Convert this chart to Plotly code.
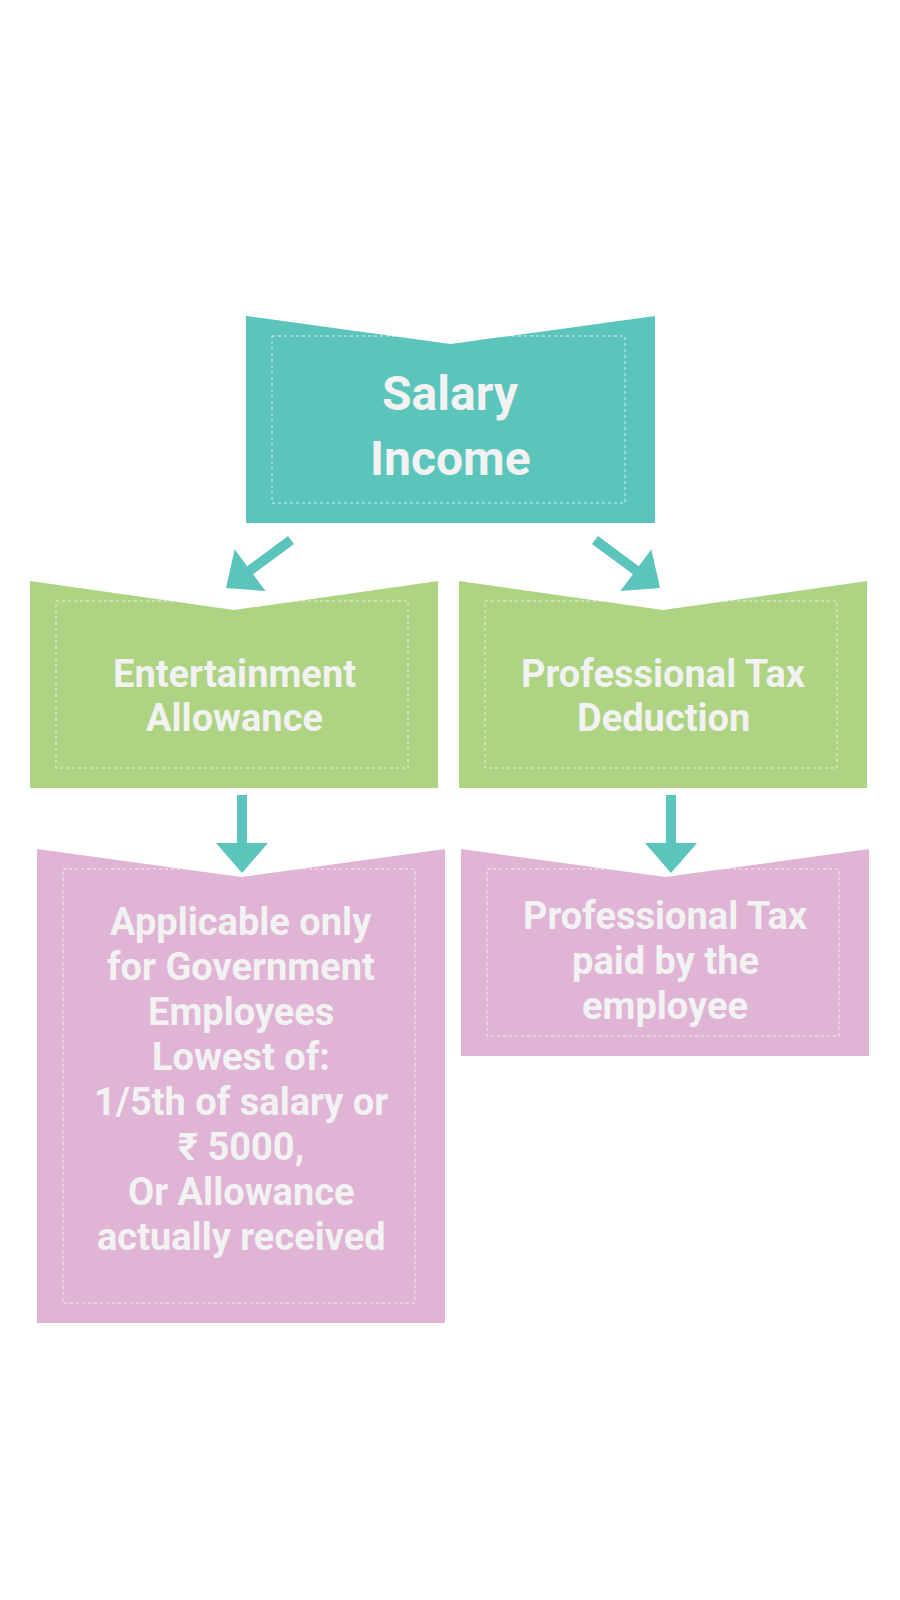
import plotly.graph_objects as go

# Boxes: (left, right, top, notch depth, bottom)
box_names = ["salary", "entertain", "proftax", "applicable", "paid"]
box_left = [238, 22, 451, 29, 453]
box_right = [647, 430, 859, 437, 861]
box_top = [308, 573, 573, 841, 841]
box_notch = [28, 29, 29, 28, 28]
box_bottom = [515, 780, 780, 1315, 1048]
box_colors = ["#5bc4bb", "#aed383", "#aed383", "#e0b4d4", "#e0b4d4"]

# Text lines per box with their centre y and font size
box_lines = [
    ["Salary", "Income"],
    ["Entertainment", "Allowance"],
    ["Professional Tax", "Deduction"],
    ["Applicable only", "for Government", "Employees", "Lowest of:",
     "1/5th of salary or", "₹ 5000,", "Or Allowance", "actually received"],
    ["Professional Tax", "paid by the", "employee"],
]
line_first_y = [385, 666, 666, 914, 908]
line_step = [65, 44, 44, 45, 45]
font_sizes = [48, 38, 38, 38, 38]

# Arrows: start and end points
arrow_start = [(283, 532), (587, 532), (234, 787), (663, 787)]
arrow_end = [(218, 580), (652, 580), (234, 865), (663, 865)]


def arrow_path(p0, p1, shaft=10, head_w=52, head_l=30):
    x0, y0 = p0
    x1, y1 = p1
    dx, dy = x1 - x0, y1 - y0
    ln = (dx ** 2 + dy ** 2) ** 0.5
    ux, uy = dx / ln, dy / ln
    nx, ny = -uy, ux
    bx, by = x1 - ux * head_l, y1 - uy * head_l
    pts = [
        (x0 + nx * shaft / 2, y0 + ny * shaft / 2),
        (bx + nx * shaft / 2, by + ny * shaft / 2),
        (bx + nx * head_w / 2, by + ny * head_w / 2),
        (x1, y1),
        (bx - nx * head_w / 2, by - ny * head_w / 2),
        (bx - nx * shaft / 2, by - ny * shaft / 2),
        (x0 - nx * shaft / 2, y0 - ny * shaft / 2),
    ]
    return "M " + " L ".join(f"{x:.1f},{y:.1f}" for x, y in pts) + " Z"


fig = go.Figure()
shapes = []
annotations = []
for i in range(len(box_names)):
    l, r, t, n, b = box_left[i], box_right[i], box_top[i], box_notch[i], box_bottom[i]
    cx = (l + r) / 2
    path = f"M {l},{t} L {cx},{t + n} L {r},{t} L {r},{b} L {l},{b} Z"
    shapes.append(dict(type="path", path=path, fillcolor=box_colors[i],
                       line=dict(width=0), layer="below"))
    # dashed inner frame
    shapes.append(dict(type="rect", x0=l + 26, x1=r - 30, y0=t + 20, y1=b - 20,
                       line=dict(color="rgba(255,255,255,0.75)", width=1, dash="dot")))
    for j, txt in enumerate(box_lines[i]):
        annotations.append(dict(
            x=cx, y=line_first_y[i] + j * line_step[i], text=f"<b>{txt}</b>",
            showarrow=False, xanchor="center", yanchor="middle",
            font=dict(family="Roboto", size=font_sizes[i], color="#f2f2f2")))

for s, e in zip(arrow_start, arrow_end):
    shapes.append(dict(type="path", path=arrow_path(s, e), fillcolor="#5bc4bb",
                       line=dict(width=0)))

fig.update_layout(
    width=900, height=1600, margin=dict(l=0, r=0, t=0, b=0),
    paper_bgcolor="white", plot_bgcolor="white",
    xaxis=dict(range=[0, 900], visible=False, fixedrange=True),
    yaxis=dict(range=[1600, 0], visible=False, fixedrange=True),
    shapes=shapes, annotations=annotations, showlegend=False,
)
fig.write_html("out.html")
